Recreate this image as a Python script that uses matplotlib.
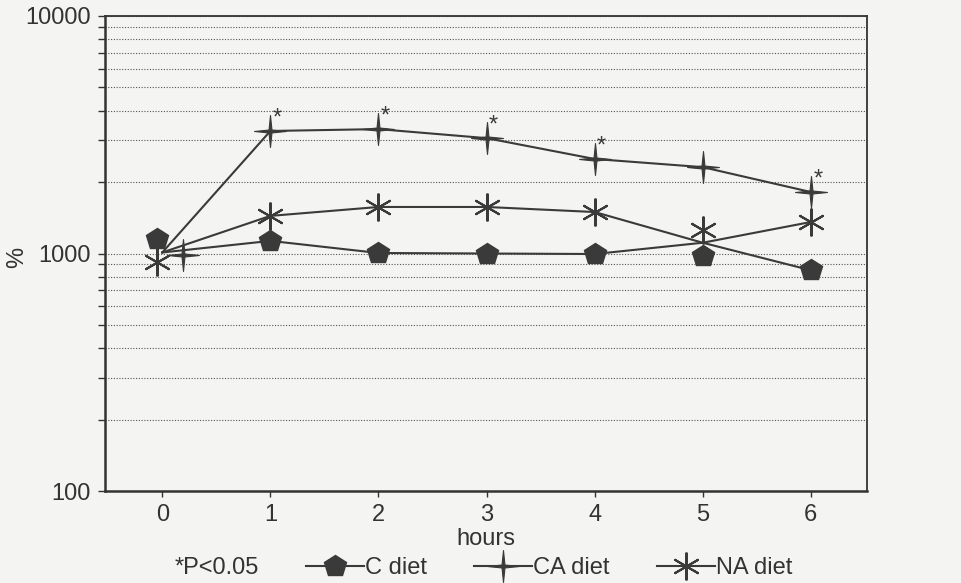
import numpy as np
import matplotlib
matplotlib.use('Agg')
import matplotlib.pyplot as plt
from matplotlib.path import Path
from matplotlib.lines import Line2D
from matplotlib.ticker import LogLocator, NullFormatter, FixedLocator, FixedFormatter

# values (y in %, log scale)
hours = [0, 1, 2, 3, 4, 5, 6]

# the connecting lines all start from a shared point at 0 h and cross at 5 h
c_line = [1010, 1130, 1005, 1000, 995, 1110, 1357]
ca_line = [1010, 3280, 3340, 3060, 2500, 2310, 1815]
na_line = [1010, 1440, 1570, 1570, 1495, 1110, 850]

# marker positions (slightly off the lines at 0 h and 5-6 h in the original)
c_marker_hours = [-0.05, 1, 2, 3, 4, 5, 6]
ca_marker_hours = [0.19, 1, 2, 3, 4, 5, 6]
na_marker_hours = [-0.05, 1, 2, 3, 4, 5, 6]
c_marker = [1150, 1130, 1005, 1000, 995, 975, 850]
ca_marker = [985, 3280, 3340, 3060, 2500, 2310, 1815]
na_marker = [920, 1440, 1570, 1570, 1495, 1255, 1357]

# hours where CA diet is significant (P<0.05)
sig_hours = [1, 2, 3, 4, 6]

series_labels = ['C diet', 'CA diet', 'NA diet']

plt.rcParams['font.family'] = ['Liberation Sans', 'DejaVu Sans']
plt.rcParams['text.color'] = '#333333'
plt.rcParams['xtick.color'] = '#333333'
plt.rcParams['ytick.color'] = '#333333'

ink = '#3a3a3a'
bg = '#f4f4f2'
fs = 17

# thin four pointed star for the CA diet marker
ang = np.pi / 2 + np.arange(8) * np.pi / 4
rad = np.where(np.arange(8) % 2 == 0, 1.0, 0.13)
star_verts = np.column_stack([rad * np.cos(ang), rad * np.sin(ang)])
star_verts = np.vstack([star_verts, star_verts[:1]])
star4 = Path(star_verts, closed=True)

c_style = dict(marker='p', markersize=16.5, markerfacecolor=ink, markeredgecolor=ink)
ca_style = dict(marker=star4, markersize=23, markerfacecolor=ink, markeredgecolor=ink,
                markeredgewidth=0.8)
na_style = dict(marker=(6, 2, 0), markersize=20, markeredgecolor=ink, markeredgewidth=1.5)

fig = plt.figure(figsize=(9.61, 5.83), dpi=100, facecolor=bg)
ax = fig.add_axes([105 / 961, 1 - 491 / 583, 762 / 961, 475 / 583], facecolor=bg)

ax.set_yscale('log')
ax.set_ylim(100, 10000)
ax.set_xlim(-0.53, 6.52)

# lines first, markers on top
for vals in (c_line, ca_line, na_line):
    ax.plot(hours, vals, color=ink, linewidth=1.5, zorder=3)

ax.plot(c_marker_hours, c_marker, linestyle='none', zorder=4, **c_style)
ax.plot(ca_marker_hours, ca_marker, linestyle='none', zorder=4, **ca_style)
ax.plot(na_marker_hours, na_marker, linestyle='none', zorder=4, **na_style)

# significance stars above the CA diet points
for h in sig_hours:
    v = ca_marker[hours.index(h)]
    ax.annotate('*', xy=(h, v), xytext=(5, 4.5), textcoords='offset points',
                ha='center', va='baseline', fontsize=fs, color=ink, zorder=5)

# axes styling
ax.yaxis.set_major_locator(FixedLocator([100, 1000, 10000]))
ax.yaxis.set_major_formatter(FixedFormatter(['100', '1000', '10000']))
ax.yaxis.set_minor_locator(LogLocator(base=10, subs=np.arange(2, 10)))
ax.yaxis.set_minor_formatter(NullFormatter())
ax.set_xticks(hours)
ax.tick_params(axis='y', which='both', direction='out', length=5, width=1, labelsize=fs, pad=5)
ax.tick_params(axis='x', direction='out', length=4.5, width=1, labelsize=fs, pad=5)
ax.yaxis.grid(True, which='both', linestyle=(0, (1, 1.5)), color='#555555', linewidth=0.8)
ax.set_axisbelow(True)

for side in ('left', 'bottom'):
    ax.spines[side].set_linewidth(1.8)
for side in ('top', 'right'):
    ax.spines[side].set_linewidth(1.3)
for sp in ax.spines.values():
    sp.set_color('#333333')

fig.text(17 / 961, 1 - 257 / 583, '%', rotation=90, ha='center', va='center', fontsize=fs)
fig.text(486 / 961, 1 - 539 / 583, 'hours', ha='center', va='center', fontsize=fs)

# legend row
fig.text(175 / 961, 1 - 568 / 583, '*P<0.05', ha='left', va='center', fontsize=fs)
handles = [Line2D([], [], color=ink, linewidth=1.5, **c_style),
           Line2D([], [], color=ink, linewidth=1.5, **ca_style),
           Line2D([], [], color=ink, linewidth=1.5, **na_style)]
fig.legend(handles, series_labels, loc='center', bbox_to_anchor=(549 / 961, 1 - 568 / 583),
           ncol=3, frameon=False, fontsize=fs, handlelength=2.45, handletextpad=0.05,
           columnspacing=2.0, borderpad=0, borderaxespad=0)

fig.savefig('out.png', dpi=100, facecolor=bg)
